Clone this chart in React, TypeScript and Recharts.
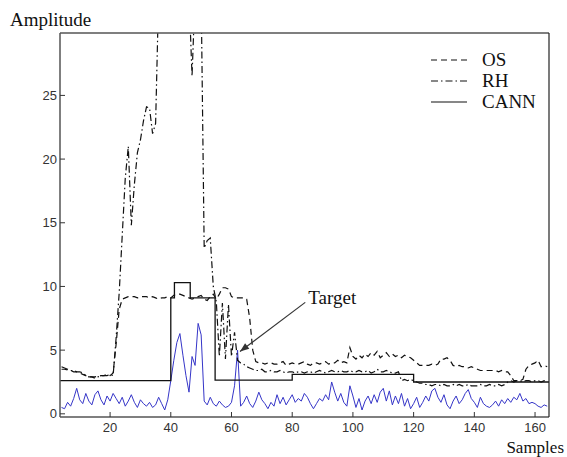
import { LineChart, Line, XAxis, YAxis, ReferenceLine, Legend, Label } from 'recharts';

const FIRST_SAMPLE = 4;
const xTicks = [20, 40, 60, 80, 100, 120, 140, 160];
const yTicks = [0, 5, 10, 15, 20, 25];

// OS detector threshold (dashed)
const osValues = [
  3.5, 3.5, 3.45, 3.4, 3.3, 3.3, 3.2, 3.1, 3.0, 2.9,
  2.9, 2.9, 2.95, 3.0, 3.0, 3.1, 3.0, 3.2, 5.5, 8.2,
  9.0, 9.1, 9.2, 9.2, 9.2, 9.1, 9.2, 9.2, 9.2, 9.1,
  9.2, 9.1, 9.0, 9.1, 9.1, 9.2, 9.1, 9.3, 9.4, 9.4,
  9.3, 9.2, 9.1, 9.0, 9.1, 9.2, 9.3, 9.0, 8.9, 9.2,
  9.4, 9.0, 9.4, 9.9, 9.9, 9.8, 9.2, 9.1, 9.1, 9.1,
  9.1, 9.0, 7.5, 5.0, 4.1, 4.0, 4.0, 3.9, 4.0, 4.0,
  3.9, 3.9, 4.0, 4.1, 3.8, 3.9, 4.0, 3.9, 3.9, 4.0,
  4.1, 3.9, 3.8, 4.0, 4.0, 3.9, 4.0, 4.1, 3.9, 4.0,
  4.0, 4.2, 4.0, 4.1, 4.0, 5.2, 4.5, 4.3, 4.6, 4.4,
  4.7, 4.5, 4.8, 4.6, 4.9, 4.4, 4.6, 4.8, 4.5, 4.7,
  4.5, 4.6, 4.4, 4.6, 4.5, 4.4, 4.2, 4.0, 3.8, 3.8,
  3.8, 3.8, 3.9, 3.8, 3.9, 4.3, 4.3, 4.4, 4.2, 3.8,
  3.7, 3.8, 3.7, 3.7, 3.6, 3.7, 3.6, 3.5, 3.4, 3.4,
  3.4, 3.4, 3.4, 3.4, 3.3, 3.4, 3.3, 3.3, 3.0, 2.6,
  2.6, 2.6, 2.7, 3.5, 3.8, 3.9, 4.0, 4.2, 3.7, 3.8,
  3.7,
];

// RH detector threshold (dash-dot), goes off the top around the target burst
const rhValues = [
  3.7, 3.6, 3.5, 3.4, 3.4, 3.3, 3.3, 3.2, 3.0, 2.9,
  2.9, 2.8, 2.9, 3.0, 3.0, 3.0, 3.1, 3.0, 6.0, 9.5,
  14.0, 18.5, 21.0, 14.8, 18.0, 20.5, 21.5, 23.0, 24.1, 24.0,
  22.0, 22.8, 33, 33, 33, 33, 33, 33, 33, 33,
  33, 33, 33, 26.5, 33, 33, 33, 13.0, 13.6, 13.8,
  10.0, 8.8, 4.5, 8.7, 4.3, 8.6, 4.5, 6.4, 4.2, 4.0,
  3.9, 3.7, 3.6, 3.5, 3.4, 3.4, 3.5, 3.3, 3.3, 3.4,
  3.3, 3.3, 3.4, 3.3, 3.2, 3.3, 3.3, 3.2, 3.3, 3.3,
  3.2, 3.3, 3.3, 3.2, 3.3, 3.4, 3.3, 3.2, 3.3, 3.4,
  3.3, 3.3, 3.4, 3.3, 3.3, 3.4, 3.3, 3.3, 3.4, 3.3,
  3.3, 3.4, 3.2, 3.3, 3.5, 3.3, 3.3, 3.4, 3.3, 3.2,
  3.2, 3.3, 2.6, 2.7, 2.6, 2.7, 2.6, 2.5, 2.4, 2.4,
  2.3, 2.3, 2.2, 2.3, 2.3, 2.2, 2.3, 2.2, 2.2, 2.3,
  2.2, 2.3, 2.2, 2.2, 2.3, 2.2, 2.2, 2.2, 2.3, 2.2,
  2.2, 2.3, 2.2, 2.2, 2.3, 2.2, 2.3, 2.5, 2.6, 2.5,
  2.6, 2.6, 2.5, 2.6, 2.6, 2.5, 2.6, 2.6, 2.5, 2.6,
  2.5,
];

// received signal (blue)
const signalValues = [
  0.5, 0.4, 0.9, 0.6, 1.2, 2.0, 1.1, 0.8, 1.6, 1.0,
  0.7, 1.5, 1.8, 1.1, 0.7, 1.4, 1.0, 1.6, 1.2, 0.8,
  1.3, 0.6, 1.0, 1.5, 0.9, 0.5, 1.1, 0.8, 0.6, 0.9,
  0.5, 0.7, 1.3, 0.8, 0.3, 1.1, 2.6, 4.2, 5.6, 6.3,
  4.6, 3.0, 1.7, 4.5, 3.8, 7.1, 6.2, 1.0, 0.7, 1.3,
  0.8, 0.6, 1.0, 0.7, 0.5, 0.6, 0.9, 2.2, 5.0, 0.6,
  0.9, 1.4, 0.8, 0.5, 1.0, 1.7, 1.1, 0.8, 0.4, 0.9,
  0.6, 1.5, 0.8, 1.3, 0.7, 1.1, 1.5, 0.9, 1.2, 1.0,
  1.6, 1.3, 0.8, 0.4, 0.8, 1.2, 1.0, 1.5, 1.1, 2.5,
  1.7, 1.0, 1.6, 0.9, 0.6, 2.2, 1.4, 0.5, 1.2, 0.3,
  1.0, 1.4, 0.8, 1.5, 0.9, 1.7, 2.0, 1.0, 1.8, 0.7,
  1.4, 0.8, 1.6, 0.6, 1.2, 0.4, 0.8, 1.3, 0.5, 0.9,
  1.4, 1.0, 1.8, 2.0, 1.3, 0.9, 1.5, 0.7, 0.4, 1.0,
  1.4, 0.8, 1.1, 1.6, 1.9, 1.2, 0.9, 0.5, 1.3, 0.8,
  0.6, 0.5, 0.7, 1.0, 0.6, 1.1, 0.8, 1.2, 0.9, 1.3,
  1.1, 1.6, 1.0, 1.2, 0.8, 0.9, 0.8, 0.6, 0.5, 0.7,
  0.6,
];

// CANN threshold is piecewise constant: corner points
const cannSamples = [3.5, 40, 40, 41.2, 41.2, 46.4, 46.4, 54.6, 54.6, 80, 80, 120, 120, 164.6];
const cannValues = [2.6, 2.6, 9.1, 9.1, 10.3, 10.3, 9.1, 9.1, 2.65, 2.65, 3.1, 3.1, 2.5, 2.5];

const legendNames = ['OS', 'RH', 'CANN'];
const legendDashes = ['6 4', '7 3 1.5 3', undefined];

const targetText = 'Target';
const targetTail = { x: 84.3, y: 8.75 };
const targetTip = { x: 62.8, y: 4.9 };

const toSeries = (values: number[]) => values.map((v, i) => ({ s: FIRST_SAMPLE + i, v }));
const osData = toSeries(osValues);
const rhData = toSeries(rhValues);
const signalData = toSeries(signalValues);
const cannData = cannSamples.map((s, i) => ({ s, v: cannValues[i] }));

const SERIF = '"Liberation Serif", "Times New Roman", serif';
const SANS = '"Liberation Sans", Arial, sans-serif';
const AXIS = { stroke: '#555', strokeWidth: 1.5 };
const TICKLINE = { stroke: '#333', strokeWidth: 1 };
const TICK = { fill: '#333', fontSize: 13, fontFamily: SANS };
const X_DOMAIN = [3.5, 164.6];
const Y_DOMAIN = [-0.25, 29.9];

function LegendBox() {
  return (
    <svg width={130} height={70}>
      {legendNames.map((name, i) => (
        <g key={name}>
          <line x1={3} x2={39} y1={12 + i * 21} y2={12 + i * 21} stroke="#111" strokeWidth={1.2} strokeDasharray={legendDashes[i]} />
          <text x={54} y={18 + i * 21} fontFamily={SERIF} fontSize={19} fill="#111">{name}</text>
        </g>
      ))}
    </svg>
  );
}

function TargetArrow(props: any) {
  const { x1, y1, x2, y2 } = props;
  const a = Math.atan2(y2 - y1, x2 - x1);
  const len = 9;
  const w = 3.5;
  const bx = x2 - len * Math.cos(a);
  const by = y2 - len * Math.sin(a);
  const p1 = `${bx + w * Math.sin(a)},${by - w * Math.cos(a)}`;
  const p2 = `${bx - w * Math.sin(a)},${by + w * Math.cos(a)}`;
  return (
    <g>
      <line x1={x1} y1={y1} x2={x2} y2={y2} stroke="#333" strokeWidth={1.2} />
      <polygon points={`${x2},${y2} ${p1} ${p2}`} fill="#333" />
      <text x={x1 + 3} y={y1 + 2} fontFamily={SERIF} fontSize={19} fill="#111">{targetText}</text>
    </g>
  );
}

export default function App() {
  return (
    <div style={{ position: 'absolute', left: 0, top: 0, background: '#fff' }}>
      <LineChart width={567} height={457} margin={{ top: 32, right: 17, left: 0, bottom: 0 }}>
        <XAxis
          dataKey="s"
          type="number"
          domain={X_DOMAIN}
          allowDataOverflow
          ticks={xTicks}
          height={40}
          axisLine={AXIS}
          tickLine={TICKLINE}
          tickSize={-5}
          tickMargin={11}
          tick={TICK}
        >
          <Label
            content={({ viewBox }: any) => (
              <text x={viewBox.x + viewBox.width + 15} y={viewBox.y + 36} textAnchor="end" fontFamily={SERIF} fontSize={17} fill="#111">
                Samples
              </text>
            )}
          />
        </XAxis>
        <XAxis
          xAxisId="t"
          orientation="top"
          dataKey="s"
          type="number"
          domain={X_DOMAIN}
          allowDataOverflow
          ticks={xTicks}
          height={1}
          axisLine={AXIS}
          tickLine={TICKLINE}
          tickSize={-5}
          tick={false}
        />
        <YAxis
          type="number"
          domain={Y_DOMAIN}
          allowDataOverflow
          ticks={yTicks}
          width={60}
          axisLine={AXIS}
          tickLine={TICKLINE}
          tickSize={-5}
          tickMargin={8}
          tick={TICK}
        >
          <Label
            content={({ viewBox }: any) => (
              <text x={viewBox.x + 10} y={viewBox.y - 7} textAnchor="start" fontFamily={SERIF} fontSize={19} fill="#111">
                Amplitude
              </text>
            )}
          />
        </YAxis>
        <YAxis
          yAxisId="r"
          orientation="right"
          type="number"
          domain={Y_DOMAIN}
          allowDataOverflow
          ticks={yTicks}
          width={1}
          axisLine={{ stroke: '#222', strokeWidth: 1.2 }}
          tickLine={TICKLINE}
          tickSize={-5}
          tick={false}
        />
        <Line data={signalData} dataKey="v" stroke="#3535c8" strokeWidth={1} dot={false} isAnimationActive={false} legendType="none" />
        <Line data={osData} dataKey="v" name="OS" stroke="#111" strokeWidth={1.2} strokeDasharray="6 4" dot={false} isAnimationActive={false} />
        <Line data={rhData} dataKey="v" name="RH" stroke="#111" strokeWidth={1.2} strokeDasharray="7 3 1.5 3" dot={false} isAnimationActive={false} />
        <Line data={cannData} dataKey="v" name="CANN" stroke="#111" strokeWidth={1.3} dot={false} isAnimationActive={false} />
        <ReferenceLine segment={[targetTail, targetTip]} shape={TargetArrow} />
        <Legend
          layout="vertical"
          align="center"
          verticalAlign="middle"
          content={() => <LegendBox />}
          wrapperStyle={{ position: 'absolute', left: 428, top: 48, width: 130, height: 70 }}
        />
      </LineChart>
    </div>
  );
}
